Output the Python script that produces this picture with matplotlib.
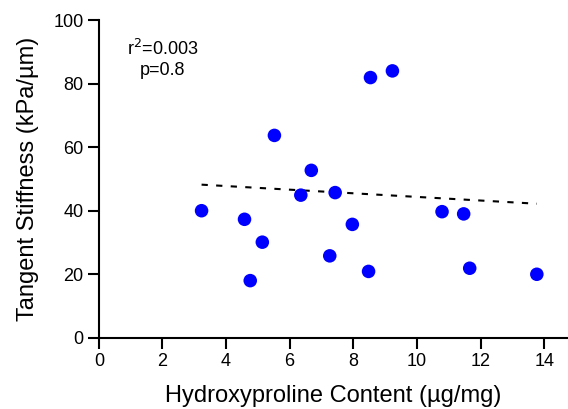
import matplotlib
matplotlib.use("Agg")
import matplotlib.pyplot as plt
import numpy as np

plt.rcParams['font.family'] = ['Liberation Sans', 'DejaVu Sans']

hyp = [3.23, 4.58, 4.76, 5.14, 5.52, 6.35, 6.68, 7.26, 7.43, 7.97, 8.48, 8.54, 9.23, 10.79, 11.47, 11.66, 13.77]
stiff = [40.0, 37.3, 18.0, 30.1, 63.7, 44.9, 52.7, 25.8, 45.7, 35.7, 20.9, 81.9, 84.0, 39.7, 39.0, 21.9, 20.0]
fit_x = [3.23, 13.77]
fit_y = [48.2, 42.2]
xticks = [0, 2, 4, 6, 8, 10, 12, 14]
yticks = [0, 20, 40, 60, 80, 100]

fig = plt.figure(figsize=(5.68, 4.09), dpi=100)
ax = fig.add_axes([0.174, 0.174, 0.826, 0.777])

ax.plot(fit_x, fit_y, color='black', linestyle=(0, (3, 4)), linewidth=1.5, zorder=2)
ax.scatter(hyp, stiff, s=95, color='#0000ff', edgecolors='none', zorder=3)

ax.set_xlim(0, 14.75)
ax.set_ylim(0, 100)
ax.set_xticks(xticks)
ax.set_yticks(yticks)
for s in ['top', 'right']:
    ax.spines[s].set_visible(False)
for s in ['left', 'bottom']:
    ax.spines[s].set_linewidth(1.5)
ax.tick_params(direction='out', length=8, width=1.5, labelsize=13, pad=3)
ax.set_xlabel('Hydroxyproline Content (µg/mg)', fontsize=17, labelpad=11)
ax.set_ylabel('Tangent Stiffness (kPa/µm)', fontsize=17, labelpad=10)

ax.text(2.0, 91, r'r$^2$=0.003', ha='center', va='center', fontsize=13)
ax.text(2.0, 84, 'p=0.8', ha='center', va='center', fontsize=13)

fig.savefig('out.png', dpi=100)
